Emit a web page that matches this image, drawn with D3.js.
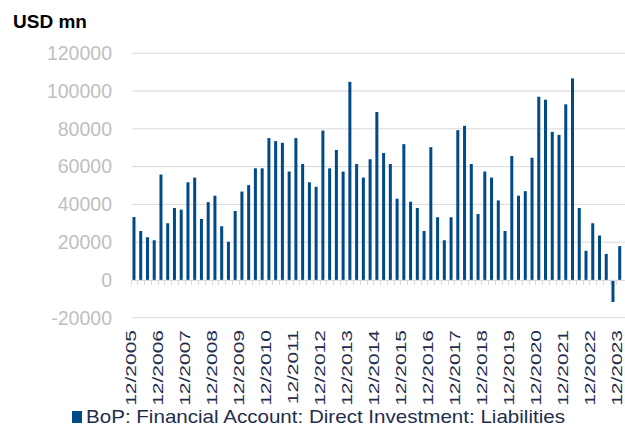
<!DOCTYPE html>
<meta charset="utf-8">
<head>
    <style>
        body { margin: 0; background: #fff; }
        text { font-family: "Liberation Sans", Arial, sans-serif; }
    </style>
    <script src="https://d3js.org/d3.v7.min.js"></script>
</head>
<body>
<svg id="chart"></svg>
<script>
    var width = 625, height = 430;

    // quarterly values, 12/2005 .. 12/2023
    var values = [
        33300, 25900, 22600, 21000, 55800, 30000, 38100, 37200, 51700, 54200,
        32300, 41200, 44600, 28400, 20200, 36500, 46800, 50200, 59100, 59100,
        75100, 73500, 72600, 57400, 75100, 61400, 51700, 49300, 79100, 59100,
        68800, 57400, 104900, 61400, 54200, 63900, 88900, 67200, 61400, 43000,
        71900, 41400, 38100, 25900, 70300, 33200, 21000, 33200, 79300, 81600,
        61400, 34900, 57400, 54200, 42100, 25900, 65600, 44600, 47000, 64700,
        97000, 95400, 78400, 76800, 93000, 106700, 38100, 15400, 30000, 23500,
        13800, -11700, 17900
    ];
    var months = ["12", "03", "06", "09"];
    var quarters = values.map(function (v, i) {
        var y = 2005 + Math.ceil(i / 4);
        return months[i % 4] + "/" + y;
    });
    var yTicks = [-20000, 0, 20000, 40000, 60000, 80000, 100000, 120000];
    var seriesName = "BoP: Financial Account: Direct Investment: Liabilities";
    var unitLabel = "USD mn";

    var svg = d3.select("#chart")
        .attr("width", width)
        .attr("height", height);

    var x = d3.scaleBand()
        .domain(quarters)
        .range([130.6, 623.1])
        .padding(0);

    var y = d3.scaleLinear()
        .domain([-20000, 120000])
        .range([317.7, 53.3]);

    // gridlines
    svg.append("g")
        .selectAll("line")
        .data(yTicks.filter(function (d) { return d !== 0; }))
        .enter()
        .append("line")
        .attr("x1", 132)
        .attr("x2", 625)
        .attr("y1", function (d) { return y(d); })
        .attr("y2", function (d) { return y(d); })
        .style("stroke", "#d9d9d9")
        .style("stroke-width", 1);

    // y labels
    svg.append("g")
        .selectAll("text")
        .data(yTicks)
        .enter()
        .append("text")
        .attr("x", 112)
        .attr("y", function (d) { return y(d); })
        .attr("dy", "0.35em")
        .attr("text-anchor", "end")
        .style("font-size", "19.5px")
        .style("fill", "#bfbfbf")
        .text(function (d) { return d; });

    // bars
    svg.append("g")
        .selectAll("rect")
        .data(values)
        .enter()
        .append("rect")
        .attr("x", function (d, i) { return x(quarters[i]) + x.bandwidth() / 2 - 1.5; })
        .attr("width", 3)
        .attr("y", function (d) { return y(Math.max(0, d)); })
        .attr("height", function (d) { return Math.abs(y(d) - y(0)); })
        .style("fill", "#004a87");

    // zero axis + ticks
    svg.append("line")
        .attr("x1", 132)
        .attr("x2", 625)
        .attr("y1", y(0) + 0.5)
        .attr("y2", y(0) + 0.5)
        .style("stroke", "#d9d9d9");

    svg.append("g")
        .selectAll("line")
        .data(quarters)
        .enter()
        .append("line")
        .attr("x1", function (d) { return Math.round(x(d)) + 0.5; })
        .attr("x2", function (d) { return Math.round(x(d)) + 0.5; })
        .attr("y1", y(0))
        .attr("y2", y(0) + 5)
        .style("stroke", "#d9d9d9");

    // x labels, every 4th quarter
    svg.append("g")
        .selectAll("text")
        .data(quarters.filter(function (d, i) { return i % 4 === 0; }))
        .enter()
        .append("text")
        .attr("transform", function (d) {
            return "translate(" + (x(d) + 5.3) + ",330) rotate(-90) scale(1,0.7)";
        })
        .attr("text-anchor", "end")
        .style("font-size", "21px")
        .style("fill", "#1f2d4d")
        .text(function (d) { return d; });

    // unit label
    svg.append("text")
        .attr("x", 13)
        .attr("y", 28)
        .style("font-size", "19px")
        .style("font-weight", "bold")
        .style("fill", "#000")
        .text(unitLabel);

    // legend
    svg.append("rect")
        .attr("x", 72)
        .attr("y", 411)
        .attr("width", 10)
        .attr("height", 12)
        .style("fill", "#004a87");

    svg.append("text")
        .attr("x", 86)
        .attr("y", 423)
        .attr("textLength", 479)
        .attr("lengthAdjust", "spacingAndGlyphs")
        .style("font-size", "19px")
        .style("fill", "#1f2d4d")
        .text(seriesName);
</script>
</body>
</html>
